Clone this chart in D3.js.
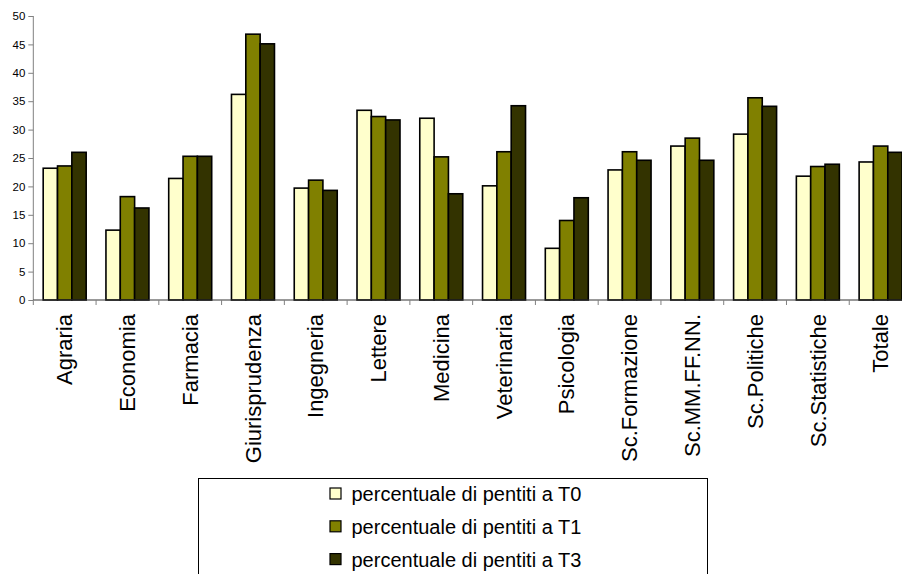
<!DOCTYPE html>
<html>
<head>
<meta charset="utf-8">
<script src="https://cdn.jsdelivr.net/npm/d3@7"></script>
<style>
  html, body { margin: 0; padding: 0; background: #fff; }
  svg { display: block; font-family: "Liberation Sans", Arial, sans-serif; }
</style>
</head>
<body>
<svg id="chart" width="902" height="574"></svg>
<script>
// Faculties on the horizontal axis
const categories = ["Agraria", "Economia", "Farmacia", "Giurisprudenza", "Ingegneria", "Lettere",
  "Medicina", "Veterinaria", "Psicologia", "Sc.Formazione", "Sc.MM.FF.NN.", "Sc.Politiche",
  "Sc.Statistiche", "Totale"];

// Series names (legend labels)
const seriesNames = ["percentuale di pentiti a T0", "percentuale di pentiti a T1", "percentuale di pentiti a T3"];

// Percentage values per faculty
const valuesT0 = [23.2, 12.3, 21.4, 36.2, 19.7, 33.4, 32.0, 20.1, 9.1, 22.9, 27.1, 29.2, 21.8, 24.3];
const valuesT1 = [23.6, 18.2, 25.3, 46.8, 21.1, 32.3, 25.2, 26.1, 14.0, 26.1, 28.5, 35.6, 23.5, 27.1];
const valuesT3 = [26.0, 16.2, 25.3, 45.1, 19.3, 31.7, 18.7, 34.2, 18.0, 24.6, 24.6, 34.1, 23.9, 26.0];

// Y-axis ticks
const yTicks = [0, 5, 10, 15, 20, 25, 30, 35, 40, 45, 50];

const seriesValues = [valuesT0, valuesT1, valuesT3];
const colors = ["#FFFFCC", "#808000", "#333300"];

const svg = d3.select("#chart");

const plot = { left: 33.3, right: 912, top: 16, bottom: 300 };

const x0 = d3.scaleBand().domain(categories).range([plot.left, plot.right]).paddingInner(0).paddingOuter(0);
const x1 = d3.scaleBand().domain(d3.range(seriesNames.length)).range([0, x0.bandwidth()])
  .paddingInner(0).paddingOuter(0.69);
const y = d3.scaleLinear().domain([0, 50]).range([plot.bottom, plot.top]);

// Bars
const groups = svg.append("g").selectAll("g")
  .data(categories)
  .join("g")
  .attr("transform", d => `translate(${x0(d)},0)`);

groups.selectAll("rect")
  .data((c, i) => seriesValues.map((vals, s) => ({ s, v: vals[i] })))
  .join("rect")
  .attr("x", d => x1(d.s))
  .attr("y", d => y(d.v))
  .attr("width", x1.bandwidth())
  .attr("height", d => y(0) - y(d.v))
  .attr("fill", d => colors[d.s])
  .attr("stroke", "#000")
  .attr("stroke-width", 1.6);

// Y axis
const yAxis = svg.append("g")
  .attr("transform", `translate(${plot.left},0)`)
  .call(d3.axisLeft(y).tickValues(yTicks).tickSize(5).tickPadding(3).tickFormat(d3.format("d")));
yAxis.select(".domain").attr("stroke", "#808080").attr("d", `M0,${plot.top}V${plot.bottom}`);
yAxis.selectAll(".tick line").attr("stroke", "#808080");
yAxis.selectAll(".tick text").attr("font-size", 11.5).attr("fill", "#000")
  .attr("font-family", "'Liberation Sans', Arial, sans-serif");

// X axis: baseline, boundary ticks and rotated labels
const xAxis = svg.append("g").attr("transform", `translate(0,${plot.bottom})`);
xAxis.append("line")
  .attr("x1", plot.left).attr("x2", plot.right)
  .attr("stroke", "#333").attr("stroke-width", 1);
const boundaries = categories.map(c => x0(c)).concat([x0(categories[categories.length - 1]) + x0.bandwidth()]);
xAxis.selectAll("line.tick")
  .data(boundaries)
  .join("line")
  .attr("class", "tick")
  .attr("x1", d => d).attr("x2", d => d)
  .attr("y1", 0).attr("y2", 5)
  .attr("stroke", "#808080");
xAxis.selectAll("text")
  .data(categories)
  .join("text")
  .attr("transform", d => `translate(${x0(d) + x0.bandwidth() / 2},14) rotate(-90)`)
  .attr("text-anchor", "end")
  .attr("dy", "0.35em")
  .attr("font-size", 22)
  .attr("fill", "#000")
  .text(d => d);

// Legend
const legend = svg.append("g");
legend.append("rect")
  .attr("x", 198.5).attr("y", 478.5)
  .attr("width", 509).attr("height", 120)
  .attr("fill", "#fff").attr("stroke", "#000").attr("stroke-width", 1);

const rows = legend.selectAll("g.row")
  .data(seriesNames)
  .join("g")
  .attr("class", "row")
  .attr("transform", (d, i) => `translate(330,${488 + i * 32.8})`);
rows.append("rect")
  .attr("width", 11).attr("height", 11)
  .attr("fill", (d, i) => colors[i])
  .attr("stroke", "#000").attr("stroke-width", 1.2);
rows.append("text")
  .attr("x", 21.5).attr("y", 13)
  .attr("font-size", 20)
  .attr("fill", "#000")
  .text(d => d);
</script>
</body>
</html>
